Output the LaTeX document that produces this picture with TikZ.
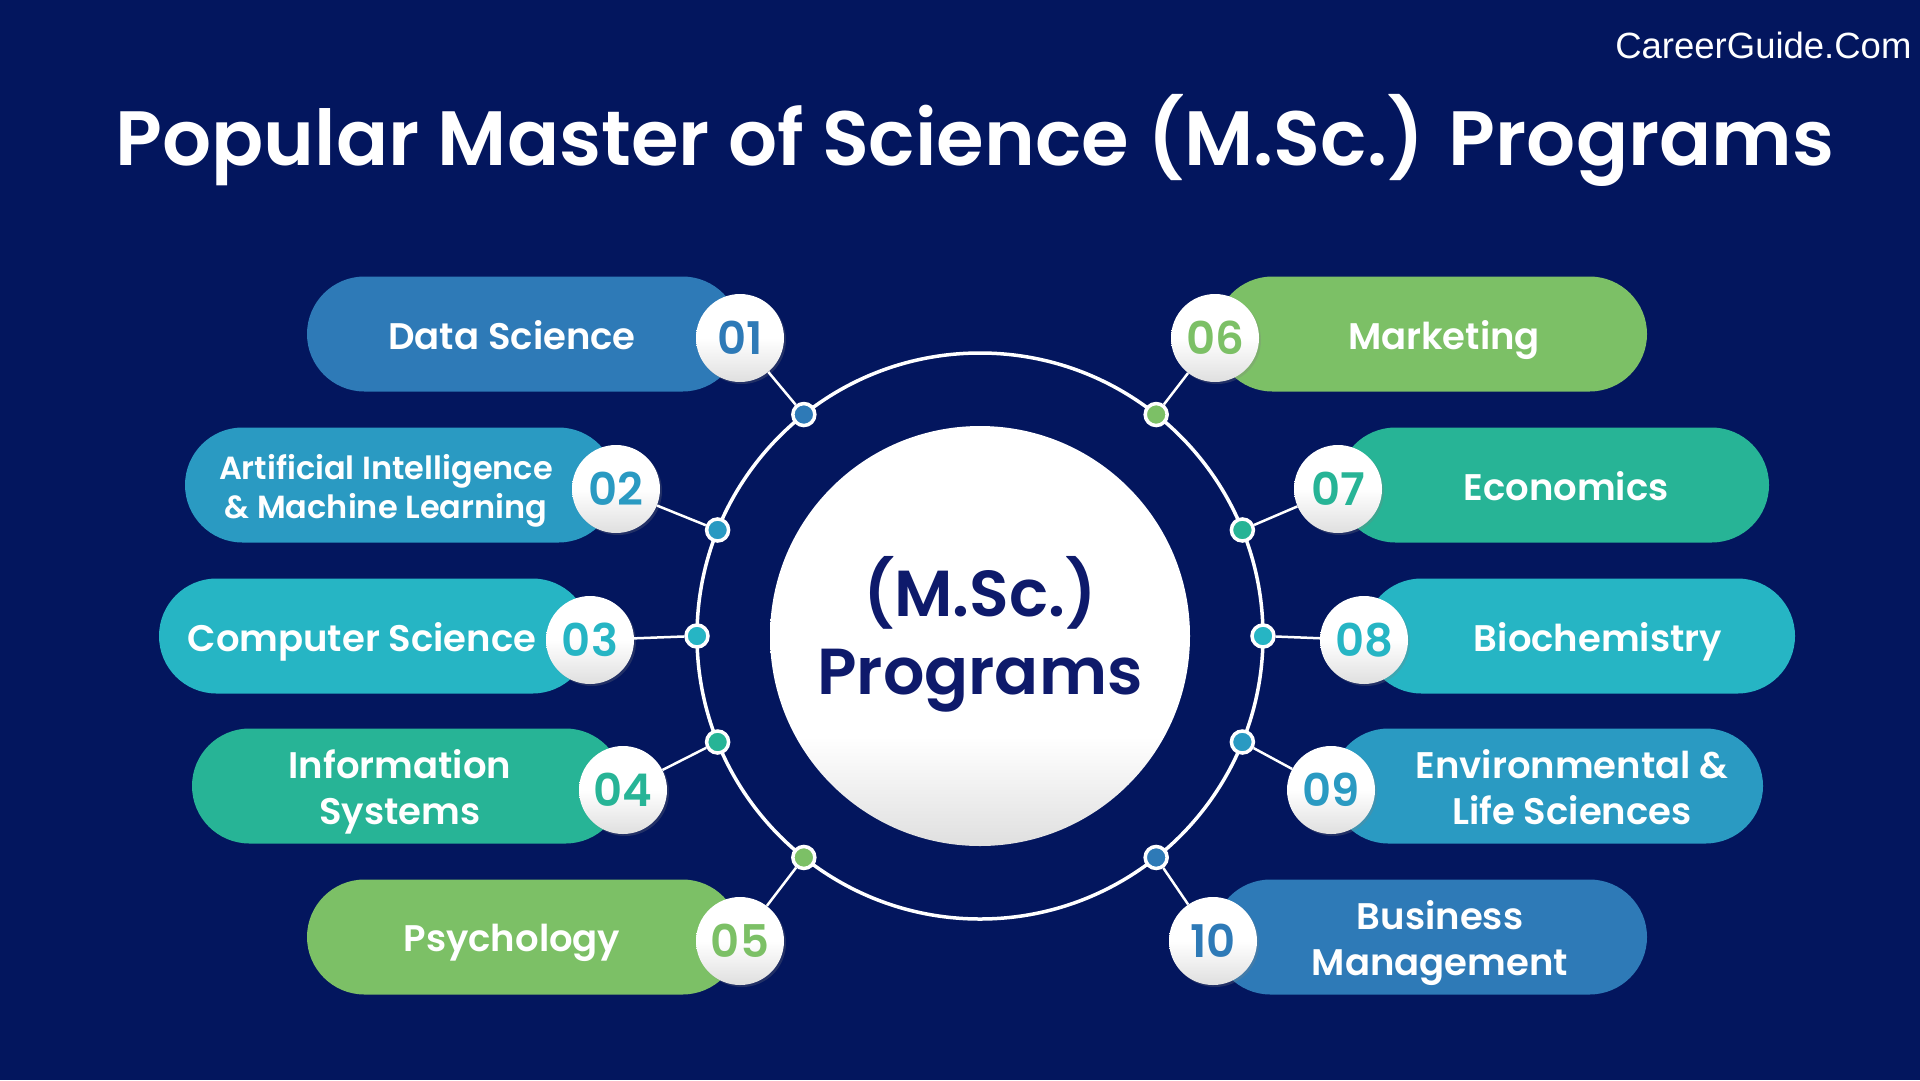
\documentclass[tikz,border=0pt]{standalone}
\usepackage{fontspec}
\setmainfont{Poppins}[BoldFont={Poppins SemiBold}]
\newfontfamily\libsans{Liberation Sans}
\usetikzlibrary{calc,shadows}
\definecolor{bg}{RGB}{3,22,94}
\definecolor{cA}{RGB}{46,122,183}
\definecolor{cB}{RGB}{42,154,194}
\definecolor{cC}{RGB}{38,181,196}
\definecolor{cD}{RGB}{39,180,150}
\definecolor{cE}{RGB}{124,192,102}
\definecolor{navy}{RGB}{14,26,107}
\pgfdeclareverticalshading{hubshade}{100bp}{color(0bp)=(gray!30); color(25bp)=(gray!25); color(38bp)=(white); color(100bp)=(white)}
\pgfdeclareverticalshading{numshade}{100bp}{color(0bp)=(gray!30); color(25bp)=(gray!25); color(50bp)=(white); color(100bp)=(white)}
\tikzset{
  pillbox/.style={rectangle, rounded corners=57.5pt, minimum height=115pt, inner sep=0pt},
  pilltext/.style={text=white, align=center},
  numbox/.style={circle, minimum size=88pt, inner sep=0pt, shading=numshade,
     drop shadow={shadow xshift=2pt, shadow yshift=-2pt, opacity=0.25},
     font=\bfseries\fontsize{45}{48}\selectfont},
  dotbox/.style={circle, draw=white, line width=3.5pt, minimum size=22pt, inner sep=0pt},
  conn/.style={white, line width=2.5pt},
}
\begin{document}
\begin{tikzpicture}[x=1pt,y=-1pt]
\fill[bg] (0,0) rectangle (1920,1080);
\useasboundingbox (0,0) rectangle (1920,1080);

\node[text=white, font=\bfseries\fontsize{77}{88}\selectfont] (title) at (975,140) {Popular Master of Science (M.Sc.) Programs};
\node[text=white, font=\libsans\fontsize{36.5}{40}\selectfont, anchor=east] (wm) at (1915,45) {CareerGuide.Com};

\coordinate (c) at (980,636);
\draw[white, line width=3.5pt] (c) circle[radius=283pt];
\node[circle, minimum size=420pt, inner sep=0pt, shading=hubshade] (hub) at (c) {};
\node[text=navy, align=center, font=\bfseries\fontsize{65}{78}\selectfont] (hubtext) at (980,634) {(M.Sc.)\\Programs};

\foreach \n/\xa/\xb/\y/\nx/\ang/\col/\tx/\fs/\ls/\lab in {
 01/307/740/334/740/128.5/cA/512/37/46/{Data Science},
 02/185/616/485/616/158/cB/386/32/39/{Artificial Intelligence\\\& Machine Learning},
 03/159/590/636/590/180/cC/362/37/46/{Computer Science},
 04/192/623/786/623/202/cD/400/37/46/{Information\\Systems},
 05/307/740/937/740/231.5/cE/512/37/46/{Psychology},
 06/1215/1647/334/1215/51.5/cE/1444/37/46/{Marketing},
 07/1338/1769/485/1338/22/cD/1566/37/46/{Economics},
 08/1364/1795/636/1364/0/cC/1598/37/46/{Biochemistry},
 09/1331/1763/786/1331/-22/cB/1572/37/46/{Environmental \&\\Life Sciences},
 10/1213/1647/937/1213/-51.5/cA/1440/37/46/{Business\\Management}}{
  \pgfmathsetmacro{\pw}{\xb-\xa}
  \pgfmathsetmacro{\pc}{(\xa+\xb)/2}
  \pgfmathsetmacro{\ny}{\y+4}
  \pgfmathsetmacro{\ty}{\y+6}
  \node[pillbox, fill=\col, minimum width=\pw pt] (pill\n) at (\pc,\y) {};
  \node[pilltext, font=\bfseries\fontsize{\fs}{\ls}\selectfont] (lab\n) at (\tx,\ty) {\lab\vphantom{gy}};
  \node[dotbox, fill=\col] (dot\n) at ($(c)+(\ang:283pt)$) {};
  \node[numbox, text=\col] (num\n) at (\nx,\ny) {\n};
  \draw[conn] (num\n) -- (dot\n);
}
\end{tikzpicture}
\end{document}
